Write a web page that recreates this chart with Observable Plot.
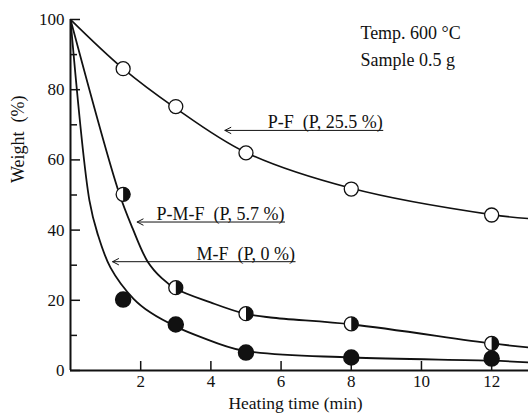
<!DOCTYPE html>
<html>
<head>
<meta charset="utf-8">
<script src="https://cdn.jsdelivr.net/npm/d3@7"></script>
<script src="https://cdn.jsdelivr.net/npm/@observablehq/plot@0.6"></script>
<style>
  html, body { margin: 0; padding: 0; background: #fff; }
  #chart { width: 528px; height: 418px; }
</style>
</head>
<body>
<div id="chart"></div>
<script>
// Measured points
const times = [1.5, 3, 5, 8, 12];
const pfValues = [86, 75.2, 62, 51.7, 44.3];
const pmfValues = [50.2, 23.6, 16.2, 13.3, 7.7];
const mfValues = [20.2, 13.1, 5.1, 3.7, 3.4];

// Fitted curves
const pfCurveX = [0, 1.5, 2.93, 5, 8, 12, 13.05];
const pfCurveY = [100, 86, 75.2, 62.1, 51.9, 44.4, 43.3];
const pmfCurveX = [0, 1.37, 1.77, 2.2, 2.6, 3, 3.99, 4.93, 5.7, 8.03, 12, 13.05];
const pmfCurveY = [100, 51, 40.5, 31, 26.3, 23.3, 19.4, 16.3, 15.1, 13.1, 7.7, 6.6];
const mfCurveX = [0, 0.54, 0.77, 1.14, 1.79, 2.28, 3.05, 3.7, 4.9, 8, 12, 13.05];
const mfCurveY = [100, 48.4, 39, 29.3, 20.5, 16.5, 12.3, 9.6, 5.7, 3.7, 2.8, 2.3];

// Arrow annotations
const arrowLabels = ["P-F  (P, 25.5 %)", "P-M-F  (P, 5.7 %)", "M-F  (P, 0 %)"];
const arrowStartX = [8.9, 6.1, 6.4];
const arrowEndX = [4.4, 1.9, 1.2];
const arrowY = [68.4, 42.3, 31];

// Condition notes
const noteLines = ["Temp. 600 °C", "Sample 0.5 g"];
const noteX = [8.26, 8.26];
const noteY = [96, 88.3];

// Axis ticks
const xTicks = [2, 4, 6, 8, 10, 12];
const yMajor = [0, 20, 40, 60, 80, 100];
const yMinor = [10, 30, 50, 70, 90];

const pts = arr => times.map((t, i) => ({x: t, y: arr[i]}));
const curve = (xs, ys) => xs.map((x, i) => ({x, y: ys[i]}));
const arrows = arrowLabels.map((label, i) => ({label, x1: arrowStartX[i], x2: arrowEndX[i], y: arrowY[i]}));
const notes = noteLines.map((t, i) => ({t, x: noteX[i], y: noteY[i]}));

const halfRight = {
  draw(context, size) {
    const r = Math.sqrt(size / Math.PI);
    context.moveTo(0, -r);
    context.arc(0, 0, r, -Math.PI / 2, Math.PI / 2);
    context.closePath();
  }
};

const font = "Liberation Serif, Times New Roman, serif";

const chart = Plot.plot({
  width: 528,
  height: 418,
  marginLeft: 70,
  marginRight: 0,
  marginTop: 19,
  marginBottom: 48,
  style: {fontFamily: font, fontSize: "17px", color: "#111", background: "#fff"},
  x: {domain: [0, 13.05]},
  y: {domain: [0, 100]},
  marks: [
    // axes
    Plot.axisX({ticks: xTicks, tickSize: -9, tickFormat: () => "", strokeWidth: 1.5, label: null}),
    Plot.axisX({ticks: xTicks, tickSize: 0, tickPadding: 4, label: null, fontSize: 17}),
    Plot.axisY({ticks: yMajor, tickSize: -10, tickFormat: () => "", strokeWidth: 1.5, label: null}),
    Plot.axisY({ticks: yMinor, tickSize: -7, tickFormat: () => "", strokeWidth: 1.5, label: null}),
    Plot.axisY({ticks: yMajor, tickSize: 0, tickPadding: 6, label: null, fontSize: 17}),
    Plot.ruleX([0], {strokeWidth: 2}),
    Plot.ruleY([0], {strokeWidth: 2}),
    Plot.text(["Heating time (min)"], {frameAnchor: "bottom", dy: 38, fontSize: 17.5, dx: -4}),
    Plot.text(["Weight  (%)"], {frameAnchor: "left", rotate: -90, dx: -52, dy: -12, fontSize: 18}),
    // curves
    Plot.line(curve(pfCurveX, pfCurveY), {x: "x", y: "y", curve: "catmull-rom", strokeWidth: 1.6, stroke: "#111", clip: true}),
    Plot.line(curve(pmfCurveX, pmfCurveY), {x: "x", y: "y", curve: "catmull-rom", strokeWidth: 1.8, stroke: "#111", clip: true}),
    Plot.line(curve(mfCurveX, mfCurveY), {x: "x", y: "y", curve: "catmull-rom", strokeWidth: 1.8, stroke: "#111", clip: true}),
    // markers
    Plot.dot(pts(pfValues), {x: "x", y: "y", r: 7, fill: "white", stroke: "#111", strokeWidth: 1.3}),
    Plot.dot(pts(pmfValues), {x: "x", y: "y", r: 7, fill: "white", stroke: "#111", strokeWidth: 1.3}),
    Plot.dot(pts(pmfValues), {x: "x", y: "y", r: 7, symbol: halfRight, fill: "#111", stroke: "none"}),
    Plot.dot(pts(mfValues), {x: "x", y: "y", r: 7.5, fill: "#111", stroke: "#111"}),
    // arrows & labels
    Plot.arrow(arrows, {x1: "x1", y1: "y", x2: "x2", y2: "y", strokeWidth: 1, stroke: "#111", headLength: 10, headAngle: 55}),
    Plot.text(arrows, {x: "x1", y: "y", text: "label", textAnchor: "end", lineAnchor: "bottom", dy: -2, fontSize: 18}),
    // notes
    Plot.text(notes, {x: "x", y: "y", text: "t", textAnchor: "start", fontSize: 18})
  ]
});
document.getElementById("chart").appendChild(chart);
</script>
</body>
</html>
